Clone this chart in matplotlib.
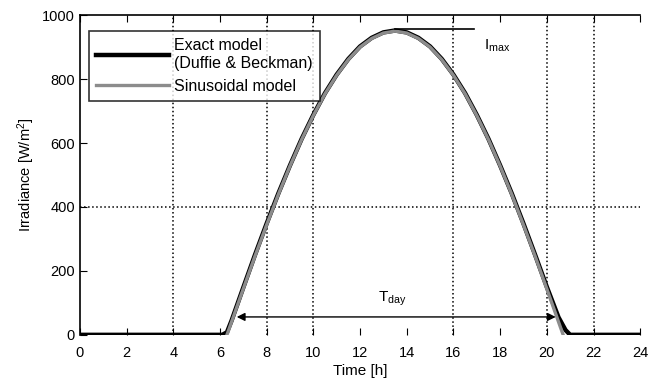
import matplotlib.pyplot as plt
import numpy as np

plt.rcParams['font.family'] = ['Liberation Sans', 'DejaVu Sans']
plt.rcParams['mathtext.default'] = 'regular'

# exact model (Duffie & Beckman)
t_exact = [0, 6.1, 6.3, 6.5, 7, 7.5, 8, 8.5, 9, 9.5, 10, 10.5, 11, 11.5, 12, 12.5, 13, 13.5,
           14, 14.5, 15, 15.5, 16, 16.5, 17, 17.5, 18, 18.5, 19, 19.5, 20, 20.5, 20.8, 21.0, 24]
i_exact = [0, 0, 8, 45, 148, 250, 348, 442, 530, 613, 688, 756, 814, 863, 902, 929, 946, 952,
           946, 929, 902, 863, 814, 756, 688, 613, 530, 442, 348, 250, 150, 55, 15, 0, 0]

# sinusoidal model
t_sin = [6.3, 6.5, 7, 7.5, 8, 8.5, 9, 9.5, 10, 10.5, 11, 11.5, 12, 12.5, 13, 13.5,
         14, 14.5, 15, 15.5, 16, 16.5, 17, 17.5, 18, 18.5, 19, 19.5, 20, 20.5, 20.7]
i_sin = [0, 41, 144, 246, 344, 439, 528, 611, 686, 754, 812, 861, 900, 927, 944, 950,
         944, 927, 900, 861, 812, 754, 686, 611, 528, 439, 344, 246, 144, 41, 0]

x_ticks = list(range(0, 25, 2))
y_ticks = list(range(0, 1001, 200))
grid_x = [4, 8, 10, 16, 20, 22]
grid_y = [400]

imax_span = (13.5, 16.9)
imax_level = 958
tday_span = (6.6, 20.5)
tday_level = 56

fig = plt.figure(figsize=(6.6, 3.88), dpi=100)
ax = fig.add_axes([0.121, 0.137, 0.849, 0.824])

for gx in grid_x:
    ax.axvline(gx, color='black', linestyle=':', linewidth=1.1, zorder=1)
for gy in grid_y:
    ax.axhline(gy, color='black', linestyle=':', linewidth=1.1, zorder=1)

ax.plot(t_exact, i_exact, color='black', linewidth=3.2, label='Exact model\n(Duffie & Beckman)', zorder=3)
ax.plot(t_sin, i_sin, color='#8c8c8c', linewidth=2.4, label='Sinusoidal model', zorder=4)

# Imax marker
ax.plot(imax_span, [imax_level, imax_level], color='black', linewidth=1.2, zorder=5)
ax.text(17.3, 905, 'I$_{max}$', fontsize=11, ha='left', va='center')

# Tday arrow
ax.annotate('', xy=(tday_span[0], tday_level), xytext=(tday_span[1], tday_level),
            arrowprops=dict(arrowstyle='<|-|>', color='black', lw=1.0, mutation_scale=12), zorder=5)
ax.text(13.4, 112, 'T$_{day}$', fontsize=11, ha='center', va='center')

ax.set_xlim(0, 24)
ax.set_ylim(0, 1000)
ax.set_xticks(x_ticks)
ax.set_yticks(y_ticks)
ax.tick_params(direction='in', top=True, right=False, labelsize=10.5, length=5)
ax.tick_params(axis='x', pad=8)
ax.spines['right'].set_visible(False)
ax.spines['bottom'].set_visible(False)
ax.spines['top'].set_linewidth(1.2)
ax.spines['left'].set_linewidth(1.2)
ax.set_xlabel('Time [h]', fontsize=11, labelpad=3)
ax.set_ylabel('Irradiance [W/m$^2$]', fontsize=10.5)

leg = ax.legend(loc='upper left', bbox_to_anchor=(0.016, 0.95), fontsize=11.5, frameon=True,
                fancybox=False, edgecolor='black', handlelength=4.6, borderaxespad=0,
                handletextpad=0.3, labelspacing=0.5, borderpad=0.45)
leg.get_frame().set_linewidth(1.2)

fig.savefig('out.png', dpi=100)
